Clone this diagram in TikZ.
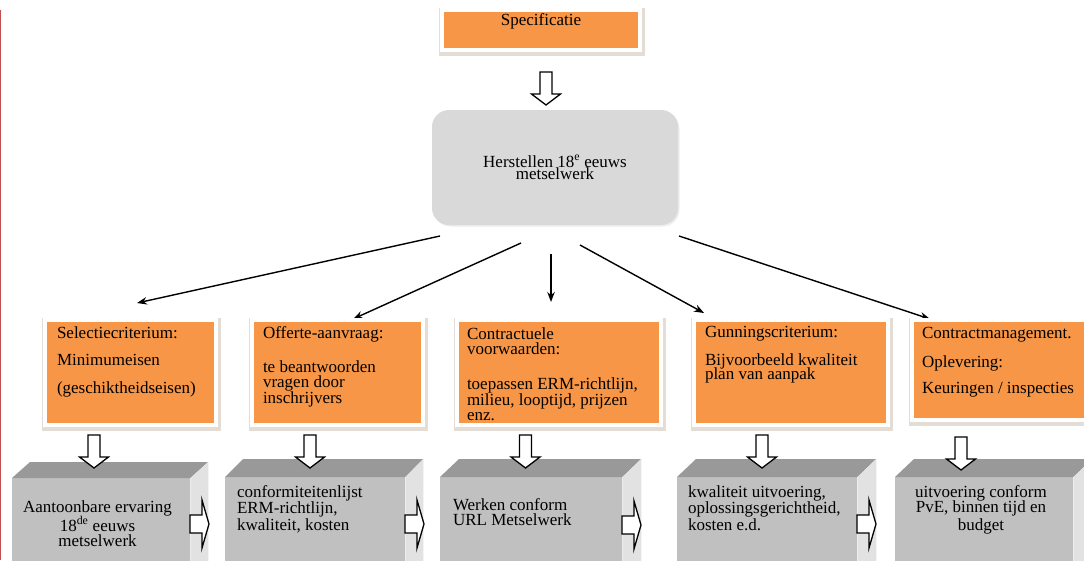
\documentclass[tikz,border=0pt]{standalone}
\usepackage{fontspec}
\setmainfont{Liberation Serif}
\usetikzlibrary{arrows.meta,shadows}
\definecolor{orng}{HTML}{F79646}
\definecolor{hbc}{HTML}{D9D9D9}
\definecolor{frontc}{HTML}{C0C0C0}
\definecolor{topc}{HTML}{999999}
\definecolor{sidec}{HTML}{E2E2E2}
\definecolor{redl}{HTML}{C0504D}
\definecolor{shad}{HTML}{E4DDD6}
\newcommand\mystrut{\rule{0pt}{12pt}}
\begin{document}
\begin{tikzpicture}[x=1pt,y=-1pt,
  txt/.style={inner sep=0pt, outer sep=0pt, font={\fontsize{17}{15.5}\selectfont}, align=left, anchor=north west},
  ctxt/.style={txt, align=center, anchor=north},
  obox/.style={draw=white, line width=4pt, fill=orng, inner sep=0pt,
    preaction={draw=shad, line width=8pt, transform canvas={xshift=1pt,yshift=-1.5pt}}},
  fbox/.style={fill=frontc, inner sep=0pt, anchor=north west},
  conn/.style={line width=1.4pt, -{Stealth[length=10pt,width=7.5pt]}},
  hollow/.style={draw=black, line width=1.3pt, fill=white, line join=miter},
  pics/downarr/.style={code={\draw[hollow] (-6,0) -- (6,0) -- (6,22) -- (14.5,22) -- (0,33) -- (-14.5,22) -- (-6,22) -- cycle;}},
  pics/rightarr/.style={code={\draw[hollow] (0,-9) -- (12,-9) -- (12,-24) -- (19,0) -- (12,24) -- (12,9) -- (0,9) -- cycle;}},
]
\useasboundingbox (0,0) rectangle (1084,560);
\fill[white] (0,0) rectangle (1084,560);
\fill[redl] (0,10) rectangle (1.3,560);

% top
\node[obox, minimum width=198pt, minimum height=40pt] (spec) at (541,30) {};
\node[txt, anchor=base] (spect) at (541,25) {Specificatie};
\pic at (546,72) {downarr};
\node[rounded corners=17pt, fill=hbc, minimum width=246pt, minimum height=115pt, inner sep=0pt,
  align=center, font={\fontsize{17}{12.5}\selectfont\lineskiplimit=-20pt},
  drop shadow={shadow xshift=1.5pt, shadow yshift=-1.5pt, fill=black, opacity=0.07}]
  (hb) at (555,167.5) {Herstellen 18\textsuperscript{e} eeuws\\metselwerk};

% connectors
\coordinate (s1) at (440,236); \coordinate (e1) at (137,303);
\coordinate (s2) at (521,243); \coordinate (e2) at (353,319);
\coordinate (s3) at (551,254); \coordinate (e3) at (551,302);
\coordinate (s4) at (580,245); \coordinate (e4) at (704,313);
\coordinate (s5) at (679,236); \coordinate (e5) at (930,319);
\foreach \i in {1,...,5} \draw[conn] (s\i) -- (e\i);

% orange boxes
\node[obox, minimum width=171pt, minimum height=105pt] (o1) at (130.5,372.5) {};
\node[obox, minimum width=171pt, minimum height=105pt] (o2) at (337.5,372.5) {};
\node[obox, minimum width=204pt, minimum height=105pt] (o3) at (559,372.5) {};
\node[obox, minimum width=194pt, minimum height=105pt] (o4) at (791,372.5) {};
\node[obox, minimum width=178pt, minimum height=100pt] (o5) at (1001,370) {};

\node[txt] (o1t) at (57,326) {\mystrut Selectiecriterium:\\[12pt]Minimumeisen\\[12pt](geschiktheidseisen)};
\node[txt] (o2t) at (263,326) {\mystrut Offerte-aanvraag:\\[18.5pt]te beantwoorden\\vragen door\\inschrijvers};
\node[txt] (o3t) at (467,327) {\mystrut Contractuele\\voorwaarden:\\[19.5pt]toepassen ERM-richtlijn,\\milieu, looptijd, prijzen\\enz.};
\node[txt] (o4t) at (705,325) {\mystrut Gunningscriterium:\\[12.5pt]Bijvoorbeeld kwaliteit\\[-1.5pt]plan van aanpak};
\node[txt] (o5t) at (922,326) {\mystrut Contractmanagement.\\[13.5pt]Oplevering:\\[10.5pt]Keuringen / inspecties};

% 3D boxes
\node[fbox, minimum width=178pt, minimum height=95pt] (f1) at (12,478) {};
\fill[topc] (f1.north west) -- ++(18,-16) -- ++(178,0) -- (f1.north east) -- cycle;
\fill[sidec] (f1.north east) -- ++(18,-16) -- ++(0,130) -- ++(-18,0) -- cycle;

\node[fbox, minimum width=180pt, minimum height=95pt] (f2) at (225,477) {};
\fill[topc] (f2.north west) -- ++(18,-18) -- ++(180,0) -- (f2.north east) -- cycle;
\fill[sidec] (f2.north east) -- ++(18,-18) -- ++(0,130) -- ++(-18,0) -- cycle;

\node[fbox, minimum width=182pt, minimum height=95pt] (f3) at (440,477) {};
\fill[topc] (f3.north west) -- ++(19,-18) -- ++(182,0) -- (f3.north east) -- cycle;
\fill[sidec] (f3.north east) -- ++(19,-18) -- ++(0,130) -- ++(-19,0) -- cycle;

\node[fbox, minimum width=180pt, minimum height=95pt] (f4) at (677,477) {};
\fill[topc] (f4.north west) -- ++(19,-18) -- ++(180,0) -- (f4.north east) -- cycle;
\fill[sidec] (f4.north east) -- ++(19,-18) -- ++(0,130) -- ++(-19,0) -- cycle;

\node[fbox, minimum width=178pt, minimum height=95pt] (f5) at (895,477) {};
\fill[topc] (f5.north west) -- ++(19,-18) -- ++(178,0) -- (f5.north east) -- cycle;
\fill[sidec] (f5.north east) -- ++(19,-18) -- ++(0,130) -- ++(-19,0) -- cycle;

\node[ctxt] (f1t) at (97.5,500) {\mystrut Aantoonbare ervaring\\18\textsuperscript{de} eeuws\\metselwerk};
\node[txt] (f2t) at (237,485) {\mystrut conformiteitenlijst\\[0.5pt]ERM-richtlijn,\\[1.5pt]kwaliteit, kosten};
\node[txt] (f3t) at (453,498) {\mystrut Werken conform\\URL Metselwerk};
\node[txt] (f4t) at (688,485) {\mystrut kwaliteit uitvoering,\\[0.5pt]oplossingsgerichtheid,\\[1.5pt]kosten e.d.};
\node[ctxt] (f5t) at (981,485) {\mystrut uitvoering conform\\PvE, binnen tijd en\\[2pt]budget};

% hollow arrows
\pic at (94,435) {downarr};
\pic at (310,435) {downarr};
\pic at (525.5,435) {downarr};
\pic at (762,435) {downarr};
\pic at (961,437) {downarr};
\pic at (190,524) {rightarr};
\pic at (405,524) {rightarr};
\pic at (622,525) {rightarr};
\pic at (857,524) {rightarr};
\end{tikzpicture}
\end{document}
